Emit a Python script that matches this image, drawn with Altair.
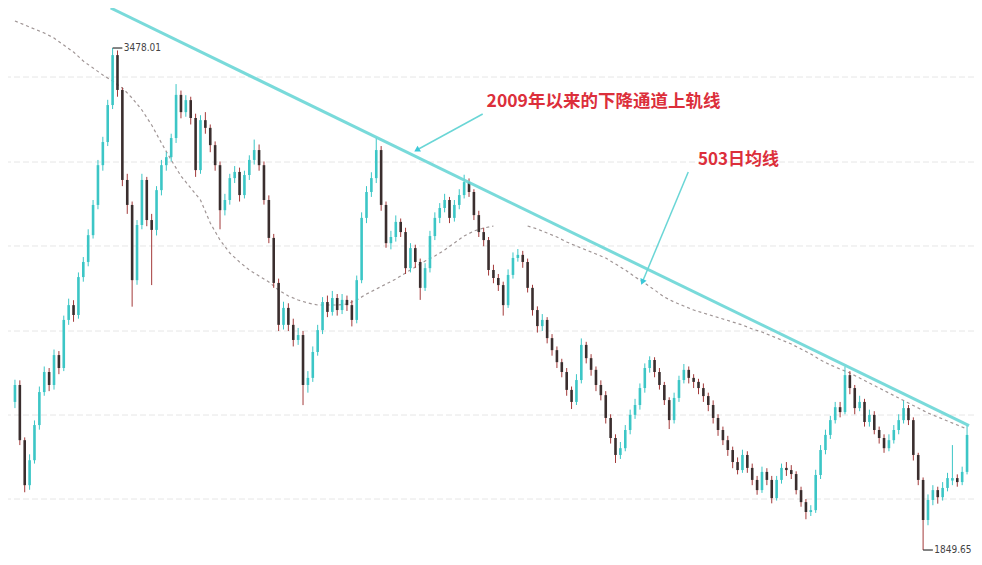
import altair as alt
import pandas as pd

# ---- candle data (Shanghai Composite) ----
opens = [2330,2385,2206,2060,2141,2255,2362,2427,2385,2482,
2440,2596,2644,2612,2735,2784,2871,2969,3098,3173,
3293,3455,3342,3050,2969,2725,2904,3050,2920,2888,
3017,3098,3124,3186,3326,3270,3309,3251,3082,3244,
3219,3163,3098,2952,2985,3056,3076,3001,3066,3115,
3147,3098,2985,2862,2716,2580,2635,2580,2531,2547,
2385,2408,2492,2563,2654,2622,2667,2628,2661,2644,
2596,2725,2927,3011,3056,3147,2969,2845,2865,2914,
2881,2764,2829,2784,2700,2764,2868,2927,2959,2985,
2927,2969,3001,3043,3011,2936,2881,2855,2758,2732,
2709,2644,2742,2797,2807,2784,2700,2628,2576,2596,
2537,2498,2459,2427,2369,2330,2401,2515,2472,2434,
2385,2352,2278,2213,2158,2180,2239,2288,2320,2375,
2440,2466,2427,2385,2336,2271,2343,2401,2434,2408,
2395,2375,2349,2320,2278,2239,2206,2174,2135,2109,
2158,2116,2077,2044,2103,2077,2018,2077,2116,2109,
2096,2044,2005,1973,1979,2093,2174,2223,2271,2313,
2297,2417,2375,2310,2330,2265,2288,2239,2213,2180,
2206,2239,2271,2310,2271,2158,2077,1947,2012,2044,
2021,2051,2075,2083,2070,2103]

highs = [2402,2400,2215,2160,2270,2380,2445,2440,2500,2495,
2610,2665,2660,2750,2800,2890,2985,3115,3190,3310,
3478.01,3470,3350,3070,2980,2920,3070,3060,2940,3030,
3115,3140,3200,3361,3340,3325,3320,3265,3260,3270,
3230,3175,3110,3005,3070,3095,3090,3080,3130,3181,
3165,3110,3000,2875,2730,2655,2650,2600,2570,2560,
2430,2510,2580,2670,2675,2690,2680,2680,2675,2660,
2740,2945,3030,3075,3186.72,3160,2980,2885,2935,2925,
2895,2845,2840,2795,2780,2885,2945,2975,3005,2995,
2985,3020,3067,3055,3020,2950,2895,2865,2775,2745,
2720,2760,2815,2826,2820,2795,2710,2640,2615,2605,
2550,2510,2470,2440,2380,2420,2536,2525,2485,2445,
2400,2365,2290,2225,2200,2255,2305,2340,2390,2455,
2478,2475,2440,2395,2345,2360,2415,2453,2445,2420,
2405,2390,2360,2335,2290,2250,2220,2185,2150,2175,
2170,2130,2090,2120,2115,2090,2090,2130,2135,2125,
2105,2055,2015,1995,2110,2190,2240,2285,2330,2330,
2444.8,2430,2385,2350,2340,2305,2300,2250,2225,2225,
2255,2290,2334,2320,2280,2165,2085,2030,2060,2055,
2070,2100,2190,2095,2120,2255]

lows = [2310,2190,2037,2045,2130,2240,2350,2365,2370,2420,
2430,2580,2590,2600,2720,2770,2860,2955,3080,3160,
3280,3320,3030,2940,2639,2710,2890,2900,2709,2870,
3000,3080,3110,3170,3250,3255,3230,3060,3070,3200,
3140,3080,2890,2935,2970,3040,2980,2990,3050,3100,
3080,2970,2845,2700,2560,2565,2560,2510,2515,2319.74,
2360,2395,2480,2550,2605,2610,2610,2615,2625,2575,
2585,2715,2910,2995,3040,2950,2830,2825,2850,2865,
2745,2750,2765,2661,2690,2750,2855,2910,2945,2910,
2915,2955,2990,2995,2920,2865,2835,2740,2715,2690,
2610,2635,2730,2785,2765,2685,2610,2555,2560,2520,
2480,2440,2410,2350,2307,2320,2390,2455,2415,2365,
2335,2260,2195,2132,2145,2170,2225,2275,2305,2360,
2425,2410,2370,2320,2242,2260,2330,2390,2390,2375,
2355,2330,2300,2260,2220,2190,2155,2115,2095,2100,
2100,2060,2029,2035,2060,2001,2010,2065,2090,2080,
2030,1990,1949.46,1960,1970,2080,2160,2210,2260,2280,
2290,2355,2290,2300,2250,2250,2225,2195,2165,2170,
2195,2225,2260,2255,2140,2060,1849.65,1930,1995,2000,
2010,2040,2060,2055,2060,2095]

closes = [2385,2206,2060,2141,2255,2362,2427,2385,2482,2440,
2596,2644,2612,2735,2784,2871,2969,3098,3173,3293,
3455,3342,3050,2969,2725,2904,3050,2920,2888,3017,
3098,3124,3186,3326,3270,3309,3251,3082,3244,3219,
3163,3098,2952,2985,3056,3076,3001,3066,3115,3147,
3098,2985,2862,2716,2580,2635,2580,2531,2547,2385,
2408,2492,2563,2654,2622,2667,2628,2661,2644,2596,
2725,2927,3011,3056,3147,2969,2845,2865,2914,2881,
2764,2829,2784,2700,2764,2868,2927,2959,2985,2927,
2969,3001,3043,3011,2936,2881,2855,2758,2732,2709,
2644,2742,2797,2807,2784,2700,2628,2576,2596,2537,
2498,2459,2427,2369,2330,2401,2515,2472,2434,2385,
2352,2278,2213,2158,2180,2239,2288,2320,2375,2440,
2466,2427,2385,2336,2271,2343,2401,2434,2408,2395,
2375,2349,2320,2278,2239,2206,2174,2135,2109,2158,
2116,2077,2044,2103,2077,2018,2077,2116,2109,2096,
2044,2005,1973,1979,2093,2174,2223,2271,2313,2297,
2417,2375,2310,2330,2265,2288,2239,2213,2180,2206,
2239,2271,2310,2271,2158,2077,1947,2012,2044,2021,
2051,2083,2083,2070,2103,2223]

# 503-day moving average, read every second candle (gap where hidden)
ma_seg1_idx = list(range(0, 99, 2))
ma_seg1 = [3565.6,3552.6,3539.6,3526.7,3510.4,3487.7,3465.0,3435.8,3413.1,3390.4,
3371.0,3348.3,3315.8,3276.9,3228.2,3169.9,3114.7,3062.8,3023.9,2985.0,
2910.4,2855.2,2813.1,2783.9,2757.9,2738.5,2719.0,2693.1,2673.6,2660.6,
2650.9,2644.4,2644.4,2644.4,2647.6,2660.6,2680.0,2696.2,2712.4,2728.7,
2748.2,2767.6,2787.1,2803.3,2822.8,2845.5,2868.2,2884.4,2894.1,2900.6]
ma_seg2_idx = list(range(105, 196, 2))
ma_seg2 = [2900.6,2890.9,2877.9,2864.9,2848.7,2835.7,2822.8,2809.8,2796.8,2777.4,
2757.9,2735.2,2715.8,2693.1,2670.3,2654.1,2641.1,2628.2,2618.4,2608.7,
2599.0,2589.2,2579.5,2566.5,2556.8,2543.8,2530.8,2517.9,2501.6,2485.4,
2466.0,2449.8,2436.8,2423.8,2407.6,2391.3,2375.1,2358.9,2342.7,2326.5,
2310.3,2294.1,2281.1,2268.1,2255.1,2242.1]

grid_levels = [3383.9, 3108.2, 2835.8, 2560.0, 2287.6, 2015.1]

channel_idx = [19.6, 195.4]
channel_val = [3607.8, 2253.1]

arrow_id = ["a", "a", "b", "b"]
arrow_idx = [95.8, 82.3, 137.9, 128.5]
arrow_val = [3264.0, 3147.1, 3075.8, 2719.0]

label_texts = ["2009年以来的下降通道上轨线", "503日均线"]
label_idx = [96.6, 139.9]
label_val = [3302.8, 3114.7]

peak_text = "3478.01"
trough_text = "1849.65"

# ---- tables ----
df = pd.DataFrame({"idx": list(range(len(closes))), "open": opens,
                   "high": highs, "low": lows, "close": closes})
ma_df = pd.DataFrame({"idx": ma_seg1_idx + ma_seg2_idx, "ma": ma_seg1 + ma_seg2,
                      "seg": ["s1"] * len(ma_seg1) + ["s2"] * len(ma_seg2)})
grid_df = pd.DataFrame({"level": grid_levels})
chan_df = pd.DataFrame({"idx": channel_idx, "val": channel_val})
arr_df = pd.DataFrame({"id": arrow_id, "idx": arrow_idx, "val": arrow_val})
lab_df = pd.DataFrame({"t": label_texts, "idx": label_idx, "val": label_val})
peak_df = pd.DataFrame({"idx": [20], "idx2": [22.0], "val": [3478.01], "tx": [22.3], "t": [peak_text]})
trough_df = pd.DataFrame({"idx": [186], "idx2": [188.0], "val": [1849.65], "tx": [188.3], "t": [trough_text]})

xs = alt.Scale(domain=[-0.4, 195.4], nice=False, zero=False)
ys = alt.Scale(domain=[1827.0, 3607.8], nice=False, zero=False)

UP = "#3cc6c6"
DOWN_BODY = "#3a2e2e"
DOWN_WICK = "#a33a3a"
CYAN = "#6ad6d6"

base = alt.Chart(df)
updown_wick = alt.condition("datum.close >= datum.open", alt.value(UP), alt.value(DOWN_WICK))
updown_body = alt.condition("datum.close >= datum.open", alt.value(UP), alt.value(DOWN_BODY))

grid = alt.Chart(grid_df).mark_rule(color="#e6e6e6", strokeDash=[6, 3], strokeWidth=1).encode(
    y=alt.Y("level:Q", scale=ys, axis=None))

ma = alt.Chart(ma_df).mark_line(color="#a09696", strokeDash=[3, 3], strokeWidth=1.2).encode(
    x=alt.X("idx:Q", scale=xs, axis=None), y=alt.Y("ma:Q", scale=ys, axis=None), detail="seg:N")

wicks = base.mark_rule(strokeWidth=1).encode(
    x=alt.X("idx:Q", scale=xs, axis=None),
    y=alt.Y("low:Q", scale=ys, axis=None), y2="high:Q",
    color=updown_wick)

bodies = base.mark_bar(size=2.6).encode(
    x=alt.X("idx:Q", scale=xs, axis=None),
    y=alt.Y("open:Q", scale=ys, axis=None), y2="close:Q",
    color=updown_body)

channel = alt.Chart(chan_df).mark_line(color=CYAN, strokeWidth=3, opacity=0.9).encode(
    x=alt.X("idx:Q", scale=xs, axis=None), y=alt.Y("val:Q", scale=ys, axis=None))

arrows = alt.Chart(arr_df).mark_line(color=CYAN, strokeWidth=1.5).encode(
    x=alt.X("idx:Q", scale=xs, axis=None), y=alt.Y("val:Q", scale=ys, axis=None), detail="id:N")

head_a = alt.Chart(arr_df.iloc[[1]]).mark_point(shape="triangle-up", filled=True, size=45,
                                                 color="#3cc8d8", opacity=1, angle=239).encode(
    x=alt.X("idx:Q", scale=xs, axis=None), y=alt.Y("val:Q", scale=ys, axis=None))
head_b = alt.Chart(arr_df.iloc[[3]]).mark_point(shape="triangle-up", filled=True, size=45,
                                                 color="#3cc8d8", opacity=1, angle=203).encode(
    x=alt.X("idx:Q", scale=xs, axis=None), y=alt.Y("val:Q", scale=ys, axis=None))

labels1 = alt.Chart(lab_df.iloc[[0]]).mark_text(
    font="Noto Sans CJK SC", fontSize=17.5, fontWeight="bold", color="#dc2f3b",
    align="left", baseline="middle").encode(
    x=alt.X("idx:Q", scale=xs, axis=None), y=alt.Y("val:Q", scale=ys, axis=None), text="t:N")
labels2 = alt.Chart(lab_df.iloc[[1]]).mark_text(
    font="Noto Sans CJK SC", fontSize=17, fontWeight="bold", color="#dc2f3b",
    align="left", baseline="middle").encode(
    x=alt.X("idx:Q", scale=xs, axis=None), y=alt.Y("val:Q", scale=ys, axis=None), text="t:N")


def marker(d):
    lead = alt.Chart(d).mark_rule(color="#333333", strokeWidth=1.2).encode(
        x=alt.X("idx:Q", scale=xs, axis=None), x2="idx2:Q",
        y=alt.Y("val:Q", scale=ys, axis=None))
    txt = alt.Chart(d).mark_text(font="DejaVu Sans Condensed", fontSize=10, color="#444444",
                                 align="left", baseline="middle").encode(
        x=alt.X("tx:Q", scale=xs, axis=None), y=alt.Y("val:Q", scale=ys, axis=None), text="t:N")
    return lead + txt


chart = alt.layer(
    grid, ma, wicks, bodies, channel, arrows, head_a, head_b,
    labels1, labels2, marker(peak_df), marker(trough_df)
).properties(
    width=966, height=549,
    autosize=alt.AutoSizeParams(type="none"),
    padding=0,
    background="white",
).configure_view(stroke=None)

chart.save("out.html", embed_options={"renderer": "svg", "actions": False})
